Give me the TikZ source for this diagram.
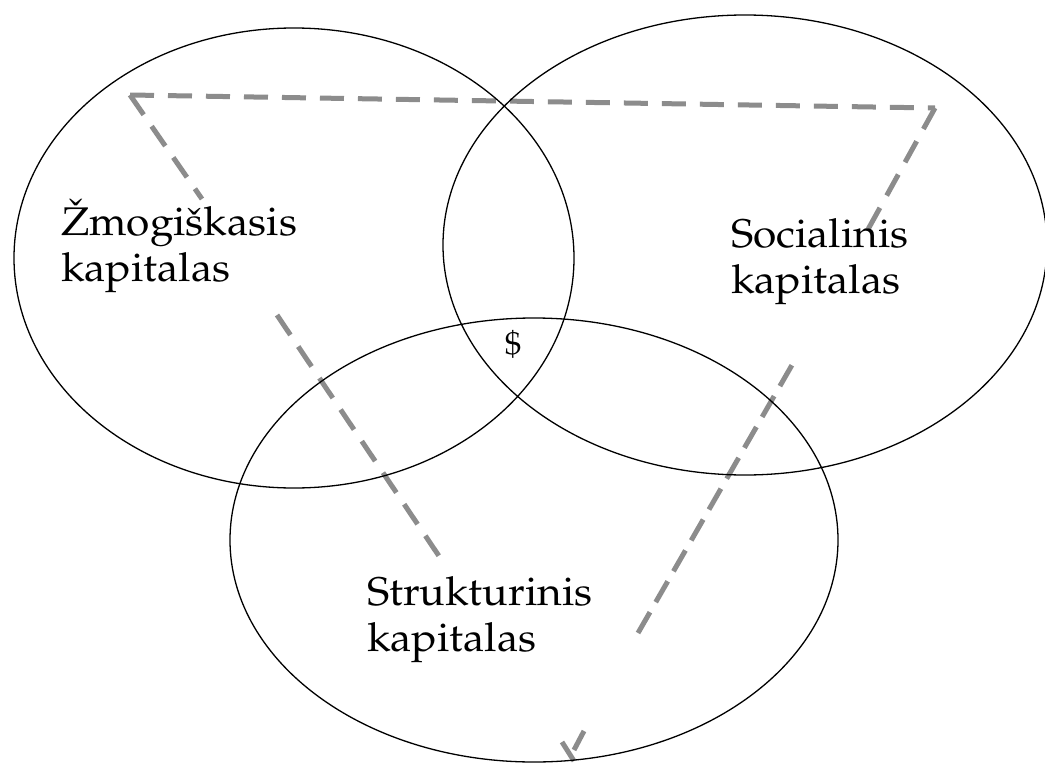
\documentclass[tikz,border=0pt]{standalone}
\usepackage[T1]{fontenc}
\usepackage{mathpazo}
\usepackage{graphicx}
\definecolor{dashgray}{RGB}{140,140,140}
\newcommand{\stretchtxt}[1]{\scalebox{1.06}[1]{#1}}
\begin{document}
\begin{tikzpicture}[x=1pt,y=-1pt,
  ring/.style={draw=black, line width=1.3pt},
  dashln/.style={draw=dashgray, line width=5pt, dash pattern=on 24pt off 14pt},
  solidln/.style={draw=dashgray, line width=5pt},
  lab/.style={align=left, font=\fontsize{40}{46}\selectfont, inner sep=0pt, anchor=base west},
  sym/.style={font=\fontsize{33}{34}\selectfont, inner sep=0pt}]
\useasboundingbox (0,0) rectangle (1045,763);
\fill[white] (0,0) rectangle (1045,763);
% dashed triangle
\coordinate (tl) at (130,95);
\coordinate (tr) at (935,108);
\coordinate (l1) at (202,199);
\coordinate (l2) at (277,315);
\coordinate (l3) at (445,565);
\coordinate (r1) at (866,233);
\coordinate (r2) at (792,365);
\coordinate (r3) at (638,633);
\coordinate (r4) at (584,731);
\coordinate (r5) at (574,750);
\coordinate (b1) at (562,742);
\coordinate (b2) at (574,761);
\draw[dashln] (tl) -- (tr);
\draw[dashln] (tl) -- (l1);
\draw[dashln] (l2) -- (l3);
\draw[dashln] (tr) -- (r1);
\draw[dashln, dash pattern=on 24pt off 11.6pt] (r3) -- (r2);
\draw[solidln] (r4) -- (r5);
\draw[solidln] (b1) -- (b2);
% circles
\draw[ring] (294,258) ellipse [x radius=280pt, y radius=230pt];
\draw[ring] (745,245) ellipse [x radius=302pt, y radius=230pt];
\draw[ring] (534,540) ellipse [x radius=304pt, y radius=222pt];
% labels
\node[lab] (human) at (61,281) {\stretchtxt{\v{Z}mogi\v{s}kasis}\\\stretchtxt{kapitalas}};
\node[lab] (social) at (731,293) {\stretchtxt{Socialinis}\\\stretchtxt{kapitalas}};
\node[lab] (struct) at (367,651) {\stretchtxt{Strukturinis}\\\stretchtxt{kapitalas}};
\node[sym] (money) at (513,345) {\$};
\end{tikzpicture}
\end{document}
